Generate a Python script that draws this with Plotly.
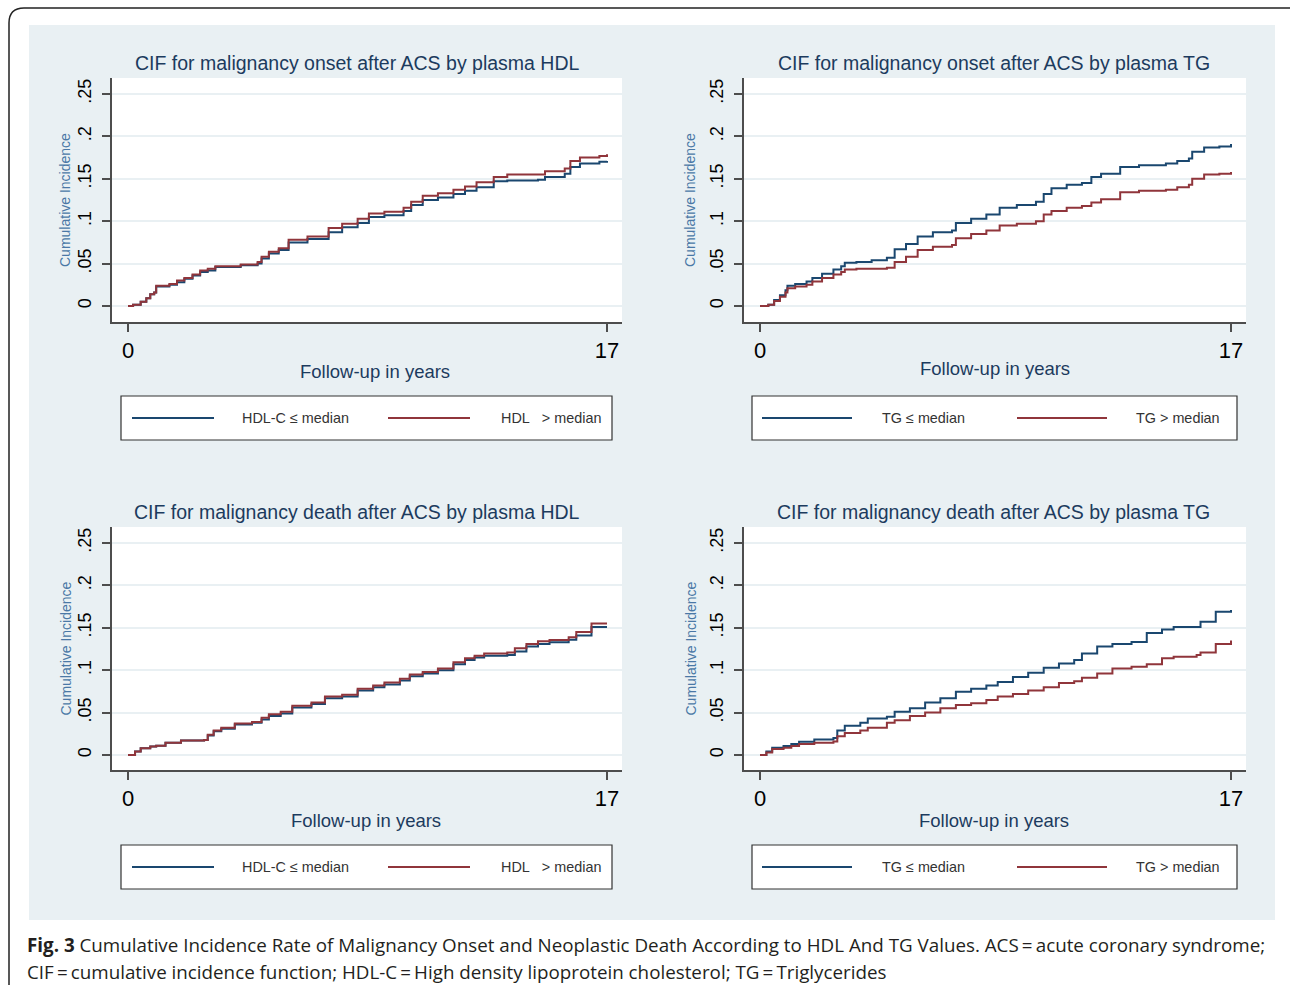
import plotly.graph_objects as go

W, H = 1290, 989

# ---------------- data ----------------
# Panel 1: CIF for malignancy onset by plasma HDL
hdl_onset_t = [0, 0.18, 0.45, 0.65, 0.79, 0.93, 1.0, 1.47, 1.74, 2.0, 2.29, 2.56, 2.83, 3.1, 4.0, 4.6,
               4.74, 5.0, 5.35, 5.7, 6.37, 7.12, 7.6, 8.15, 8.55, 9.1, 9.78, 10.05, 10.46, 11.0,
               11.55, 11.96, 12.37, 12.98, 13.46, 14.55, 14.8, 15.5, 15.7, 16.04, 16.73, 17.0]
hdl_onset_low = [0, 0.0016, 0.005, 0.009, 0.014, 0.016, 0.023, 0.025, 0.028, 0.032, 0.036, 0.040, 0.042,
                 0.046, 0.048, 0.050, 0.056, 0.062, 0.066, 0.075, 0.079, 0.087, 0.093, 0.098, 0.105,
                 0.107, 0.112, 0.119, 0.125, 0.128, 0.132, 0.136, 0.140, 0.147, 0.148, 0.149, 0.152,
                 0.156, 0.164, 0.168, 0.170, 0.171]
hdl_onset_high = [0, 0.0016, 0.005, 0.009, 0.014, 0.016, 0.024, 0.026, 0.030, 0.033, 0.037, 0.042, 0.044,
                  0.047, 0.049, 0.052, 0.058, 0.064, 0.068, 0.078, 0.082, 0.092, 0.097, 0.103, 0.109,
                  0.111, 0.116, 0.123, 0.130, 0.133, 0.137, 0.141, 0.146, 0.152, 0.155, 0.155, 0.159,
                  0.162, 0.171, 0.175, 0.177, 0.179]

# Panel 2: CIF for malignancy onset by plasma TG
tg_onset_t = [0, 0.3, 0.51, 0.72, 0.92, 0.99, 1.27, 1.68, 1.89, 2.24, 2.65, 2.93, 3.06, 3.48, 4.03, 4.58,
              4.86, 5.27, 5.69, 6.24, 6.93, 7.07, 7.62, 8.17, 8.65, 9.27, 9.96, 10.24, 10.52, 11.07,
              11.62, 11.96, 12.31, 13.0, 13.68, 14.65, 15.06, 15.48, 15.6, 16.03, 16.58, 17.0]
tg_onset_low = [0, 0.0016, 0.007, 0.0126, 0.0185, 0.024, 0.026, 0.029, 0.033, 0.038, 0.043, 0.047, 0.051,
                0.052, 0.054, 0.057, 0.067, 0.073, 0.082, 0.087, 0.089, 0.098, 0.103, 0.108, 0.116,
                0.119, 0.123, 0.132, 0.139, 0.143, 0.145, 0.152, 0.156, 0.164, 0.166, 0.168, 0.171,
                0.174, 0.182, 0.187, 0.188, 0.191]
tg_onset_high = [0, 0.0016, 0.006, 0.011, 0.016, 0.021, 0.023, 0.025, 0.029, 0.033, 0.037, 0.040, 0.043,
                 0.044, 0.044, 0.045, 0.052, 0.058, 0.066, 0.070, 0.072, 0.080, 0.085, 0.089, 0.095,
                 0.097, 0.100, 0.108, 0.112, 0.116, 0.118, 0.122, 0.126, 0.134, 0.136, 0.137, 0.140,
                 0.143, 0.150, 0.155, 0.156, 0.158]

# Panel 3: CIF for malignancy death by plasma HDL
hdl_death_t = [0, 0.25, 0.45, 0.79, 1.0, 1.33, 1.88, 2.7, 2.83, 3.04, 3.31, 3.79, 4.4, 4.74, 5.0, 5.42,
               5.83, 6.51, 6.99, 7.6, 8.15, 8.7, 9.1, 9.65, 10.0, 10.46, 11.0, 11.55, 11.96, 12.3,
               12.64, 13.46, 13.73, 14.14, 14.55, 14.96, 15.64, 15.91, 16.45, 17.0]
hdl_death_low = [0, 0.004, 0.008, 0.010, 0.011, 0.0145, 0.017, 0.0177, 0.023, 0.028, 0.031, 0.036, 0.038,
                 0.042, 0.046, 0.049, 0.056, 0.060, 0.067, 0.069, 0.076, 0.080, 0.083, 0.088, 0.093,
                 0.096, 0.100, 0.107, 0.112, 0.115, 0.117, 0.118, 0.122, 0.128, 0.131, 0.133, 0.136,
                 0.141, 0.151, 0.151]
hdl_death_high = [0, 0.004, 0.008, 0.010, 0.011, 0.0145, 0.017, 0.0177, 0.024, 0.029, 0.032, 0.037, 0.039,
                  0.044, 0.048, 0.051, 0.058, 0.062, 0.069, 0.071, 0.078, 0.082, 0.0855, 0.090, 0.095,
                  0.098, 0.102, 0.1095, 0.114, 0.117, 0.1197, 0.121, 0.126, 0.131, 0.134, 0.1355, 0.139,
                  0.145, 0.155, 0.155]

# Panel 4: CIF for malignancy death by plasma TG
tg_death_t = [0, 0.23, 0.44, 0.85, 1.13, 1.41, 1.96, 2.65, 2.79, 3.06, 3.62, 3.89, 4.58, 4.86, 5.41, 5.96,
              6.51, 7.07, 7.62, 8.17, 8.58, 9.13, 9.68, 10.24, 10.79, 11.34, 11.62, 12.17, 12.72,
              13.41, 13.96, 14.51, 14.93, 15.76, 15.9, 16.45, 17.0]
tg_death_low = [0, 0.004, 0.0086, 0.0106, 0.013, 0.0157, 0.0184, 0.020, 0.029, 0.0345, 0.038, 0.043, 0.045,
                0.051, 0.055, 0.062, 0.067, 0.0745, 0.078, 0.082, 0.086, 0.092, 0.097, 0.103, 0.108,
                0.112, 0.1197, 0.128, 0.131, 0.1334, 0.144, 0.148, 0.151, 0.151, 0.157, 0.169, 0.171]
tg_death_high = [0, 0.003, 0.007, 0.0086, 0.0106, 0.013, 0.0145, 0.016, 0.022, 0.026, 0.029, 0.032, 0.038,
                 0.041, 0.046, 0.050, 0.055, 0.059, 0.061, 0.065, 0.069, 0.072, 0.076, 0.080, 0.085,
                 0.087, 0.091, 0.096, 0.102, 0.104, 0.107, 0.114, 0.116, 0.118, 0.121, 0.131, 0.135]

panel_titles = ["CIF for malignancy onset after ACS by plasma HDL",
                "CIF for malignancy onset after ACS by plasma TG",
                "CIF for malignancy death after ACS by plasma HDL",
                "CIF for malignancy death after ACS by plasma TG"]
legend_labels = [["HDL-C \u2264 median", "HDL\u00a0\u00a0\u00a0> median"],
                 ["TG \u2264 median", "TG > median"],
                 ["HDL-C \u2264 median", "HDL\u00a0\u00a0\u00a0> median"],
                 ["TG \u2264 median", "TG > median"]]
x_ticks = [0, 17]
x_ticktext = ["0", "17"]
y_ticks = [0, 0.05, 0.1, 0.15, 0.2, 0.25]
y_ticktext = ["0", ".05", ".1", ".15", ".2", ".25"]
x_title = "Follow-up in years"
y_title = "Cumulative Incidence"
caption_1 = ("<b>Fig. 3</b> Cumulative Incidence Rate of Malignancy Onset and Neoplastic Death According "
             "to HDL And TG Values. ACS\u2009=\u2009acute coronary syndrome;")
caption_2 = ("CIF\u2009=\u2009cumulative incidence function; HDL-C\u2009=\u2009High density lipoprotein "
             "cholesterol; TG\u2009=\u2009Triglycerides")

series = [(hdl_onset_t, hdl_onset_low, hdl_onset_high),
          (tg_onset_t, tg_onset_low, tg_onset_high),
          (hdl_death_t, hdl_death_low, hdl_death_high),
          (tg_death_t, tg_death_low, tg_death_high)]

# ---------------- styling / layout ----------------
BLUE = "#1a476f"
RED = "#90353b"
BG = "#e9f0f3"
NAVY = "#1c3b5e"
AXIS = "#4d4d4d"
FONT = "Liberation Sans, Arial, sans-serif"


def px(x):
    return x / W


def py(y):
    return 1 - y / H


panels = [
    dict(x0=112, x1=622, yt=78, yb=322, x_zero=128, x_17=607, y_zero=306, y_25=94, leg_y0=396, leg_y1=440,
         title_x=357, title_y=63, xt_x=375, xt_y=371, yt_x=65),
    dict(x0=744, x1=1246, yt=78, yb=322, x_zero=760, x_17=1231, y_zero=306, y_25=94, leg_y0=396, leg_y1=440,
         title_x=994, title_y=63, xt_x=995, xt_y=369, yt_x=690),
    dict(x0=112, x1=622, yt=527, yb=770, x_zero=128, x_17=607, y_zero=755, y_25=543, leg_y0=845, leg_y1=889,
         title_x=357, title_y=512, xt_x=366, xt_y=820, yt_x=65),
    dict(x0=744, x1=1246, yt=527, yb=770, x_zero=760, x_17=1231, y_zero=755, y_25=543, leg_y0=845, leg_y1=889,
         title_x=994, title_y=512, xt_x=994, xt_y=820, yt_x=690),
]
legend_geo = [
    dict(bx0=121, bx1=612, l1=(132, 214), t1=240, l2=(388, 470), t2=603, t2_anchor="right"),
    dict(bx0=752, bx1=1237, l1=(762, 852), t1=880, l2=(1017, 1107), t2=1134, t2_anchor="left"),
    dict(bx0=121, bx1=612, l1=(132, 214), t1=240, l2=(388, 470), t2=603, t2_anchor="right"),
    dict(bx0=752, bx1=1237, l1=(762, 852), t1=880, l2=(1017, 1107), t2=1134, t2_anchor="left"),
]

fig = go.Figure()
shapes = []
annotations = []
layout = {}

for i, (p, (t, low, high)) in enumerate(zip(panels, series)):
    n = "" if i == 0 else str(i + 1)
    xa, ya = "x" + n, "y" + n
    xs = (p["x_17"] - p["x_zero"]) / 17.0
    xr = [(p["x0"] - p["x_zero"]) / xs, (p["x1"] - p["x_zero"]) / xs]
    ys = (p["y_zero"] - p["y_25"]) / 0.25
    yr = [-(p["yb"] - p["y_zero"]) / ys, 0.25 + (p["y_25"] - p["yt"]) / ys]

    fig.add_trace(go.Scatter(x=t, y=low, mode="lines", line=dict(color=BLUE, width=2, shape="hv"),
                             xaxis=xa, yaxis=ya, showlegend=False, name=legend_labels[i][0]))
    fig.add_trace(go.Scatter(x=t, y=high, mode="lines", line=dict(color=RED, width=2, shape="hv"),
                             xaxis=xa, yaxis=ya, showlegend=False, name=legend_labels[i][1]))

    layout["xaxis" + n] = dict(domain=[px(p["x0"]), px(p["x1"])], anchor=ya, range=xr,
                               tickvals=x_ticks, ticktext=x_ticktext, ticks="outside", ticklen=8,
                               tickcolor=AXIS, tickwidth=1.5, showline=True, linecolor=AXIS, linewidth=1.5,
                               showgrid=False, zeroline=False,
                               tickfont=dict(family=FONT, size=22, color="#000000"))
    layout["yaxis" + n] = dict(domain=[py(p["yb"]), py(p["yt"])], anchor=xa, range=yr,
                               tickvals=y_ticks, ticktext=y_ticktext, ticks="outside", ticklen=8,
                               tickcolor=AXIS, tickwidth=1.5, showline=True, linecolor=AXIS, linewidth=1.5,
                               showgrid=True, gridcolor=BG, gridwidth=2, zeroline=False,
                               tickangle=-90, ticklabelstandoff=4,
                               tickfont=dict(family=FONT, size=18, color="#000000"))

    annotations.append(dict(text=panel_titles[i], x=px(p["title_x"]), y=py(p["title_y"]), xref="paper",
                            yref="paper", xanchor="center", yanchor="middle", showarrow=False,
                            font=dict(family=FONT, size=19.5, color=NAVY)))
    annotations.append(dict(text=x_title, x=px(p["xt_x"]), y=py(p["xt_y"]), xref="paper", yref="paper",
                            xanchor="center", yanchor="middle", showarrow=False,
                            font=dict(family=FONT, size=18.5, color=NAVY)))
    annotations.append(dict(text=y_title, x=px(p["yt_x"]), y=py((p["yt"] + p["yb"]) / 2), xref="paper",
                            yref="paper", xanchor="center", yanchor="middle", showarrow=False, textangle=-90,
                            font=dict(family=FONT, size=14, color="#4a78a6")))

    g = legend_geo[i]
    ly = (p["leg_y0"] + p["leg_y1"]) / 2
    shapes.append(dict(type="rect", xref="paper", yref="paper", x0=px(g["bx0"]), x1=px(g["bx1"]),
                       y0=py(p["leg_y1"]), y1=py(p["leg_y0"]), fillcolor="white",
                       line=dict(color="#333333", width=1.2), layer="above"))
    shapes.append(dict(type="line", xref="paper", yref="paper", x0=px(g["l1"][0]), x1=px(g["l1"][1]),
                       y0=py(ly), y1=py(ly), line=dict(color=BLUE, width=2)))
    shapes.append(dict(type="line", xref="paper", yref="paper", x0=px(g["l2"][0]), x1=px(g["l2"][1]),
                       y0=py(ly), y1=py(ly), line=dict(color=RED, width=2)))
    annotations.append(dict(text=legend_labels[i][0], x=px(g["t1"]), y=py(ly), xref="paper", yref="paper",
                            xanchor="left", yanchor="middle", showarrow=False,
                            font=dict(family=FONT, size=14.4, color="#333333")))
    annotations.append(dict(text=legend_labels[i][1], x=px(g["t2"]), y=py(ly), xref="paper", yref="paper",
                            xanchor=g["t2_anchor"], yanchor="middle", showarrow=False,
                            font=dict(family=FONT, size=14.4, color="#333333")))

# white surround outside the light-blue graph region
for (x0, x1, y0, y1) in [(0, W, 0, 25), (0, 29, 0, H), (1275, W, 0, H), (0, W, 920, H)]:
    shapes.append(dict(type="rect", xref="paper", yref="paper", x0=px(x0), x1=px(x1), y0=py(y1), y1=py(y0),
                       fillcolor="white", line=dict(width=0), layer="below"))

# outer rounded frame
r = 15
fx0, fy0, fx1, fy1 = 9, 8, 1305, 1000
path = (f"M {px(fx0 + r)},{py(fy0)} L {px(fx1)},{py(fy0)} "
        f"M {px(fx0)},{py(fy1 - r)} L {px(fx0)},{py(fy0 + r)} "
        f"Q {px(fx0)},{py(fy0)} {px(fx0 + r)},{py(fy0)}")
shapes.append(dict(type="path", xref="paper", yref="paper", path=path,
                   line=dict(color="#222222", width=1.5)))

annotations.append(dict(text=caption_1, x=px(25), y=py(945), xref="paper", yref="paper", xanchor="left",
                        yanchor="middle", showarrow=False,
                        font=dict(family="Open Sans, sans-serif", size=18.8, color="#231f20")))
annotations.append(dict(text=caption_2, x=px(25), y=py(972), xref="paper", yref="paper", xanchor="left",
                        yanchor="middle", showarrow=False,
                        font=dict(family="Open Sans, sans-serif", size=18.8, color="#231f20")))

fig.update_layout(width=W, height=H, margin=dict(l=0, r=0, t=0, b=0), paper_bgcolor=BG,
                  plot_bgcolor="white", shapes=shapes, annotations=annotations, showlegend=False,
                  **layout)

fig.write_html("out.html", config={"displayModeBar": False},
               post_script="document.body.style.margin='0';document.body.style.overflow='hidden';")
